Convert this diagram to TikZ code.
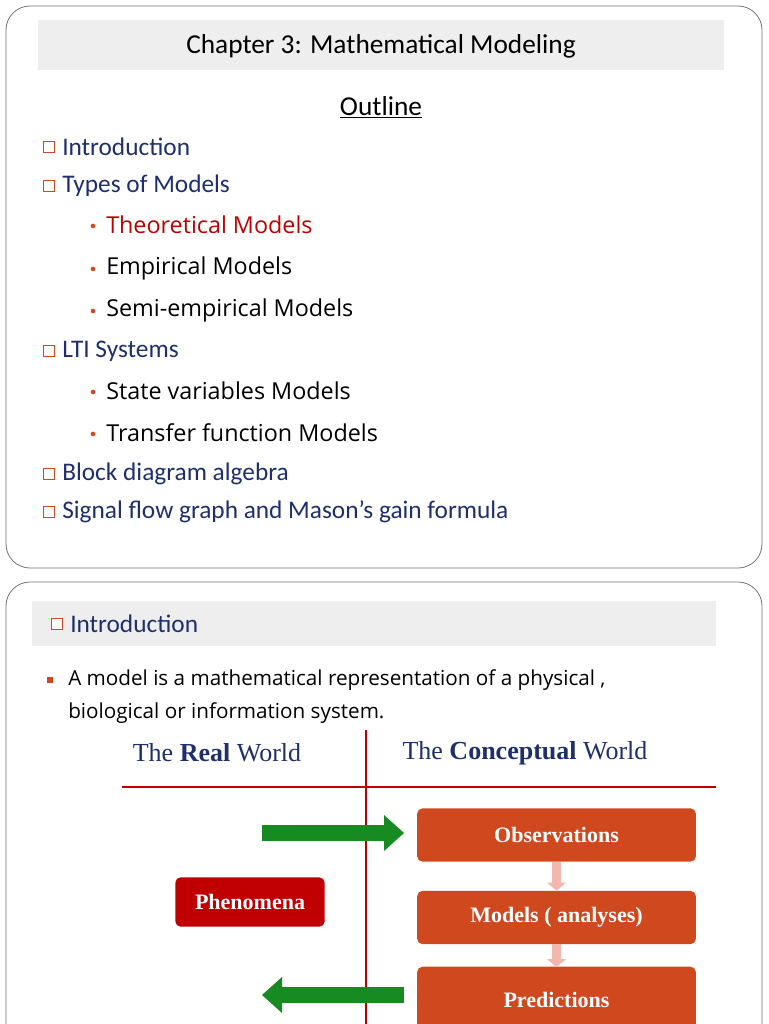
\documentclass[tikz,border=0pt]{standalone}
\usepackage{fontspec}
\setmainfont{Carlito}
\newfontfamily\serifA{Liberation Serif}
\newfontfamily\sansB{Open Sans}
\usetikzlibrary{arrows.meta}
\definecolor{dblue}{HTML}{1F2F6E}
\definecolor{ored}{HTML}{D0491E}
\definecolor{rred}{HTML}{C00000}
\definecolor{bandg}{HTML}{EEEEEE}
\definecolor{gr}{HTML}{178A22}
\definecolor{pk}{HTML}{F2B8AE}
\tikzset{
 panel/.style={draw=black!55, line width=0.6pt, rounded corners=18pt},
 band/.style={fill=bandg, draw=none},
 chk/.style={draw=ored, line width=0.8pt, minimum size=8pt, inner sep=0pt, fill=white},
 item/.style={anchor=west, text=dblue, font=\fontsize{19}{22}\selectfont, inner sep=0pt},
 sub/.style={anchor=west, font=\sansB\fontsize{17.5}{21}\selectfont, inner sep=0pt},
 dot/.style={circle, fill=ored, inner sep=0pt, minimum size=3.5pt},
 obox/.style={fill=ored, rounded corners=4pt, text=white, font=\serifA\bfseries\fontsize{16.5}{19}\selectfont, minimum width=209pt, minimum height=40pt},
}
\begin{document}
\begin{tikzpicture}[x=0.75pt,y=-0.75pt]
\useasboundingbox (0,0) rectangle (768,1024);
\fill[white] (0,0) rectangle (768,1024);
\draw[panel] (6,6) rectangle (762,568);
\fill[band] (38,20) rectangle (724,70);
\node (title) at (381,46) {\fontsize{20.5}{24}\selectfont Chapter 3: Mathematical Modeling};
\node (outline) at (381,107) {\fontsize{20.5}{24}\selectfont\underline{Outline}};
\foreach \n/\y/\t in {a/147/Introduction, b/186/Types of Models, c/351/LTI Systems, d/474/Block diagram algebra, e/512/Signal flow graph and Mason’s gain formula}{
  \node[chk] (c\n) at (49,\y) {};
  \node[item] (t\n) at (62,\y) {\t};
}
\foreach \n/\y/\t/\c in {f/225/Theoretical Models/rred, g/268/Empirical Models/black, h/310/Semi-empirical Models/black, i/391/State variables Models/black, j/433/Transfer function Models/black}{
  \node[dot] (d\n) at (93,\y+1) {};
  \node[sub, text=\c] (t\n) at (106,\y) {\t};
}
% lower panel
\draw[panel] (6,1100) -- (6,582) -- (762,582) -- (762,1100);
\fill[band] (32,601) rectangle (716,646);
\node[chk] (ci) at (57,624) {};
\node[item] (ti) at (70,624) {Introduction};
\node[fill=ored, minimum size=5pt, inner sep=0pt] (sq) at (50,680) {};
\node[anchor=west, inner sep=0pt, font=\sansB\fontsize{15.5}{18}\selectfont] (m1) at (68,680) {A model is a mathematical representation of a physical ,};
\node[anchor=west, inner sep=0pt, font=\sansB\fontsize{15.5}{18}\selectfont] (m2) at (68,713) {biological or information system.};
\node[text=dblue, font=\serifA\fontsize{19.5}{22}\selectfont] (rw) at (217,753) {The \textbf{Real} World};
\node[text=dblue, font=\serifA\fontsize{19.5}{22}\selectfont] (cw) at (525,753) {The \textbf{Conceptual} World};
\coordinate (vt) at (366,730); \coordinate (vb) at (366,1024);
\coordinate (hl) at (122,787); \coordinate (hr) at (716,787);
\draw[rred, line width=1pt] (vt) -- (vb);
\draw[rred, line width=1pt] (hl) -- (hr);
\node[obox] (obs) at (556.5,835) {Observations};
\node[obox] (mod) at (556.5,917.5) {Models ( analyses)};
\node[obox, minimum height=50pt] (pred) at (556.5,1000) {Predictions};
\node[fill=rred, rounded corners=4pt, text=white, font=\serifA\bfseries\fontsize{16.5}{19}\selectfont, minimum width=112pt, minimum height=37pt] (phen) at (250,902) {Phenomena};
\coordinate (g1) at (262,833);
\fill[gr] (g1) ++(0,-8) rectangle ++(122,16);
\fill[gr] (384,815) -- (404,833) -- (384,851) -- cycle;
\fill[gr] (404,987) rectangle (282,1003);
\fill[gr] (282,977) -- (262,995) -- (282,1013) -- cycle;
\draw[-{Triangle[width=14pt,length=6pt]}, pk, line width=7pt] (obs.south) -- (mod.north);
\draw[-{Triangle[width=14pt,length=6pt]}, pk, line width=7pt] (mod.south) -- ([yshift=-0.5pt]pred.north);
\end{tikzpicture}
\end{document}
